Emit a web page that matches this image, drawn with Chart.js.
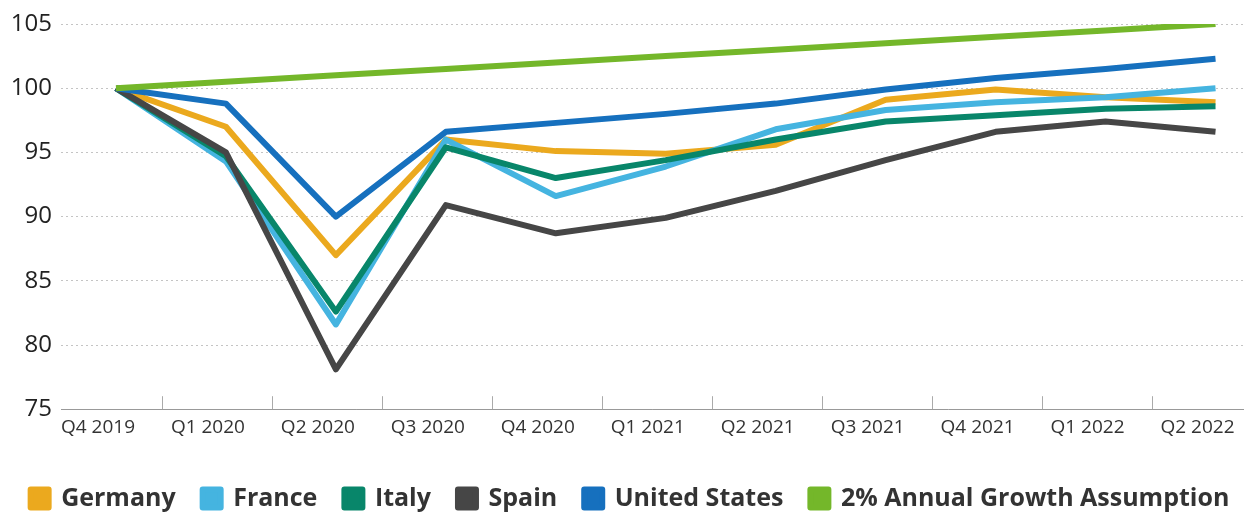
<!DOCTYPE html>
<html>
<head>
<meta charset="utf-8">
<script src="https://cdn.jsdelivr.net/npm/chart.js@4/dist/chart.umd.min.js"></script>
<style>
  html, body { margin: 0; padding: 0; background: #fff; }
  #wrap { width: 1260px; height: 516px; }
</style>
</head>
<body>
<div id="wrap"><canvas id="gdp"></canvas></div>
<script>
var quarters = ["Q4 2019", "Q1 2020", "Q2 2020", "Q3 2020", "Q4 2020", "Q1 2021", "Q2 2021", "Q3 2021", "Q4 2021", "Q1 2022", "Q2 2022"];
var germany = [100, 97.0, 87.0, 96.0, 95.1, 94.9, 95.6, 99.1, 99.9, 99.3, 98.9];
var france = [100, 94.3, 81.6, 96.0, 91.6, 93.9, 96.8, 98.3, 98.9, 99.3, 100.0];
var italy = [100, 94.7, 82.6, 95.4, 93.0, 94.4, 96.0, 97.4, 97.9, 98.4, 98.6];
var spain = [100, 95.0, 78.1, 90.9, 88.7, 89.9, 92.0, 94.4, 96.6, 97.4, 96.6];
var unitedStates = [100, 98.8, 90.0, 96.6, 97.3, 98.0, 98.8, 99.9, 100.8, 101.5, 102.3];
var growth2pct = [100, 100.5, 101.0, 101.5, 102.0, 102.5, 103.0, 103.5, 104.0, 104.5, 105.0];
var yTicks = [75, 80, 85, 90, 95, 100, 105];

function toPoints(arr) {
    return arr.map(function(v, i) { return { x: i, y: v }; });
}

function line(label, values, color, order) {
    return {
        label: label,
        data: toPoints(values),
        borderColor: color,
        backgroundColor: color,
        borderWidth: 6,
        pointRadius: 0,
        tension: 0,
        borderJoinStyle: "round",
        order: order
    };
}

// small tick marks sticking up from the axis, between the quarters
var midTicks = {
    id: "midTicks",
    afterDraw: function(chart) {
        var x = chart.scales.x, y = chart.scales.y;
        var c = chart.ctx, base = y.getPixelForValue(75);
        c.save();
        c.strokeStyle = "#aaa";
        c.lineWidth = 1;
        for (var i = 0; i < quarters.length - 1; i++) {
            var px = Math.round(x.getPixelForValue(i + 0.42)) + 0.5;
            c.beginPath();
            c.moveTo(px, base);
            c.lineTo(px, base - 13);
            c.stroke();
        }
        c.restore();
    }
};

document.addEventListener("DOMContentLoaded", function() {
    var ctx = document.getElementById("gdp").getContext("2d");
    Chart.defaults.font.family = "'Open Sans', 'Noto Sans', sans-serif";
    Chart.defaults.color = "#333";

    new Chart(ctx, {
        type: "line",
        data: {
            datasets: [
                line("Germany", germany, "#EBA91E", 6),
                line("France", france, "#45B4E0", 5),
                line("Italy", italy, "#08866A", 4),
                line("Spain", spain, "#464646", 3),
                line("United States", unitedStates, "#1670BE", 2),
                line("2% Annual Growth Assumption", growth2pct, "#74B72A", 1)
            ]
        },
        options: {
            responsive: true,
            maintainAspectRatio: false,
            animation: false,
            layout: { padding: { top: 24, right: 0, left: 0, bottom: 0 } },
            plugins: {
                tooltip: { enabled: false },
                legend: {
                    position: "bottom",
                    maxHeight: 57,
                    labels: {
                        boxWidth: 18,
                        boxHeight: 18,
                        padding: 27,
                        color: "#333",
                        font: { size: 25, weight: "bold" },
                        sort: function(a, b) { return a.datasetIndex - b.datasetIndex; }
                    }
                }
            },
            scales: {
                x: {
                    type: "linear",
                    min: -0.5,
                    max: 10.25,
                    afterBuildTicks: function(s) {
                        s.ticks = quarters.map(function(q, i) { return { value: i }; });
                    },
                    afterFit: function(s) { s.height += 13; },
                    ticks: {
                        autoSkip: false,
                        maxRotation: 0,
                        padding: 7,
                        labelOffset: -18,
                        color: "#333",
                        font: { size: 19 },
                        callback: function(v) { return quarters[v]; }
                    },
                    grid: { display: false, drawTicks: false },
                    border: { display: true, color: "#999", width: 1 }
                },
                y: {
                    min: 75,
                    max: 105,
                    afterBuildTicks: function(s) {
                        s.ticks = yTicks.map(function(v) { return { value: v }; });
                    },
                    afterFit: function(s) { s.width = 61; },
                    ticks: {
                        padding: 9,
                        color: "#222",
                        font: { size: 24 }
                    },
                    grid: {
                        color: "#c4c4c4",
                        lineWidth: 1,
                        drawTicks: false
                    },
                    border: { display: false, dash: [2, 3] }
                },
                // empty strip on the right so the plot ends where the original does
                gap: {
                    position: "right",
                    display: true,
                    afterFit: function(s) { s.width = 17; },
                    ticks: { display: false },
                    grid: { display: false, drawTicks: false },
                    border: { display: false }
                }
            }
        },
        plugins: [midTicks]
    });
});
</script>
</body>
</html>
